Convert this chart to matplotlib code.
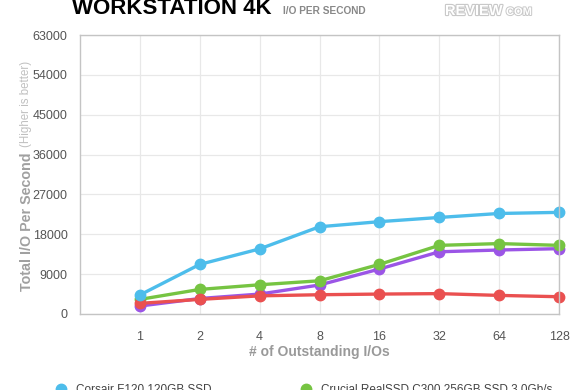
import matplotlib
matplotlib.use("Agg")
import matplotlib.pyplot as plt
import matplotlib.patheffects as pe
from matplotlib.lines import Line2D

plt.rcParams['font.family'] = ['Liberation Sans', 'DejaVu Sans']

queue_depths = ['1', '2', '4', '8', '16', '32', '64', '128']
corsair = [4300, 11200, 14700, 19700, 20850, 21800, 22700, 22950]
crucial = [3300, 5550, 6600, 7500, 11200, 15500, 15900, 15500]
purple_drive = [1800, 3500, 4500, 6550, 10150, 14050, 14450, 14750]
red_drive = [2400, 3300, 4100, 4350, 4500, 4600, 4200, 3900]
y_ticks = [0, 9000, 18000, 27000, 36000, 45000, 54000, 63000]

c_blue = '#4dbdeb'
c_green = '#76c442'
c_purple = '#9b55e6'
c_red = '#ea5050'

fig = plt.figure(figsize=(5.8, 3.9), dpi=100)
W, H = 580, 390
ax = fig.add_axes([80 / W, 1 - 314 / H, (559 - 80) / W, (314 - 35) / H])

xs = list(range(1, len(queue_depths) + 1))
style = dict(lw=2.4, marker='o', ms=7.5, solid_capstyle='round', clip_on=False)
ax.plot(xs, purple_drive, color=c_purple, **style)
ax.plot(xs, crucial, color=c_green, **style)
ax.plot(xs, red_drive, color=c_red, **style)
ax.plot(xs, corsair, color=c_blue, **style)

ax.set_xlim(0, len(queue_depths))
ax.set_ylim(0, 63000)
ax.set_xticks(xs)
ax.set_xticklabels(queue_depths)
ax.set_yticks(y_ticks)
ax.set_yticklabels([str(v) for v in y_ticks])
ax.tick_params(length=0, labelsize=9, labelcolor='#555555')
ax.tick_params(axis='x', pad=12)
ax.tick_params(axis='y', pad=9)
ax.grid(True, color='#e8e8e8', lw=0.9)
ax.set_axisbelow(True)
for s in ax.spines.values():
    s.set_color('#c4c4c4')
    s.set_linewidth(1)

ax.set_xlabel('# of Outstanding I/Os', fontsize=10, color='#999999',
              fontweight='bold', labelpad=2)

# y label in two parts
fig.text(27 / W, 1 - 291 / H, 'Total I/O Per Second', rotation=90, ha='center',
         va='bottom', fontsize=10.3, color='#a0a0a0', fontweight='bold')
fig.text(26 / W, 1 - 147 / H, '(Higher is better)', rotation=90, ha='center',
         va='bottom', fontsize=8.3, color='#c0c0c0')

fig.text(72 / W, 1 - 14 / H, 'WORKSTATION 4K', fontsize=16, fontweight='bold',
         color='black', ha='left', va='baseline')
fig.text(283 / W, 1 - 14 / H, 'I/O PER SECOND', fontsize=7.3, color='#888888',
         fontweight='bold', ha='left', va='baseline')
logo = fig.text(445 / W, 1 - 15 / H, 'REVIEW', fontsize=10.5, fontweight='bold',
                color='white', ha='left', va='baseline')
logo.set_path_effects([pe.withStroke(linewidth=1.6, foreground='#c8c8c8')])
logo2 = fig.text(506 / W, 1 - 15 / H, 'COM', fontsize=8, fontweight='bold',
                 color='white', ha='left', va='baseline')
logo2.set_path_effects([pe.withStroke(linewidth=1.4, foreground='#c8c8c8')])

handles = [Line2D([], [], ls='none', marker='o', ms=7.5, color=c_blue),
           Line2D([], [], ls='none', marker='o', ms=7.5, color=c_green)]
fig.legend(handles, ['Corsair F120 120GB SSD', 'Crucial RealSSD C300 256GB SSD 3.0Gb/s'],
           loc='center left', bbox_to_anchor=(54.8 / W, 1 - 390 / H), ncol=2,
           frameon=False, fontsize=8.5, handlelength=1, handletextpad=0.8,
           columnspacing=7.5, borderpad=0, borderaxespad=0, labelcolor='#444444')

fig.savefig('out.png', dpi=100)
